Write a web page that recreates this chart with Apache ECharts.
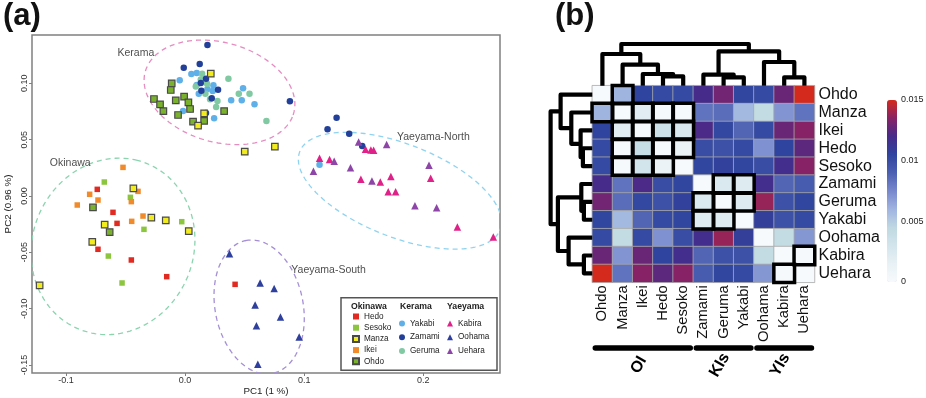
<!DOCTYPE html>
<html>
<head>
<meta charset="utf-8">
<script src="https://cdn.jsdelivr.net/npm/echarts@6/dist/echarts.min.js"></script>
<style>
  html, body { margin: 0; padding: 0; background: #fff; }
  #chart { width: 926px; height: 398px; }
</style>
</head>
<body>
<div id="chart"></div>
<script>
// ---------- panel (a): PCA, each point is [PC1, PC2] ----------
const hedo = [[-0.0737, 0.0059], [-0.0731, -0.0473], [-0.0605, -0.0145], [-0.0571, -0.0243], [-0.0451, -0.0568], [-0.0154, -0.0716], [0.0420, -0.0784]];
const sesoko = [[-0.0678, 0.0124], [-0.0459, -0.0012], [-0.0345, -0.0296], [-0.0028, -0.0228], [-0.0644, -0.0533], [-0.0529, -0.0772]];
const manza = [[0.0216, 0.1086], [0.0160, 0.0734], [0.0109, 0.0624], [0.0501, 0.0393], [0.0754, 0.0438], [-0.0434, 0.0068], [-0.0283, -0.0192], [-0.0162, -0.0216], [0.0031, -0.0311], [-0.0675, -0.0254], [-0.0779, -0.0408], [-0.1221, -0.0793]];
const ikei = [[-0.0521, 0.0254], [-0.0801, 0.0015], [-0.0731, -0.0036], [-0.0905, -0.0080], [-0.0395, 0.0041], [-0.0451, -0.0050], [-0.0353, -0.0178], [-0.0448, -0.0225]];
const ohdo = [[-0.0112, 0.1000], [-0.0120, 0.0941], [-0.0261, 0.0861], [-0.0210, 0.0814], [-0.0182, 0.0754], [-0.0078, 0.0849], [-0.0008, 0.0882], [0.0028, 0.0831], [0.0042, 0.0772], [-0.0059, 0.0719], [0.0067, 0.0660], [0.0160, 0.0666], [0.0328, 0.0754], [-0.0773, -0.0101], [-0.0633, -0.0320]];
const yakabi = [[-0.0045, 0.1027], [0.0053, 0.1083], [0.0098, 0.1092], [0.0098, 0.0985], [0.0115, 0.0908], [0.0188, 0.0950], [0.0238, 0.0982], [0.0232, 0.0932], [0.0387, 0.0849], [0.0487, 0.0956], [0.0476, 0.0849], [0.0583, 0.0814], [-0.0017, 0.0754], [0.0042, 0.0769], [0.0244, 0.0689], [0.1129, 0.0278]];
const zamami = [[0.0188, 0.1340], [-0.0011, 0.1139], [0.0123, 0.1172], [0.0176, 0.1041], [0.0132, 0.1003], [0.0137, 0.0935], [0.0277, 0.0944], [0.0224, 0.0867], [0.0176, 0.0737], [0.0880, 0.0840], [0.1272, 0.0695], [0.1196, 0.0592], [0.1378, 0.0553], [0.1487, 0.0444]];
const geruma = [[0.0143, 0.1086], [0.0132, 0.1033], [0.0090, 0.0973], [0.0185, 0.0997], [0.0171, 0.0908], [0.0210, 0.0858], [0.0272, 0.0843], [0.0261, 0.0790], [0.0364, 0.1041], [0.0451, 0.0908], [0.0541, 0.0908], [0.0683, 0.0666]];
const kabira = [[0.1129, 0.0334], [0.1213, 0.0325], [0.1515, 0.0414], [0.1560, 0.0408], [0.1583, 0.0405], [0.1476, 0.0148], [0.1639, 0.0124], [0.1728, 0.0172], [0.1706, 0.0038], [0.1768, 0.0038], [0.2062, 0.0157], [0.2286, -0.0275], [0.2588, -0.0364]];
const oohama = [[0.0373, -0.0512], [0.0630, -0.0772], [0.0748, -0.0820], [0.0588, -0.0967], [0.0801, -0.1074], [0.0599, -0.1151], [0.0958, -0.1251], [0.0611, -0.1494]];
const uehara = [[0.1457, 0.0479], [0.1692, 0.0456], [0.1252, 0.0308], [0.1078, 0.0219], [0.1389, 0.0251], [0.1569, 0.0133], [0.2048, 0.0272], [0.1930, -0.0086], [0.2112, -0.0104]];

const pc1Ticks = [-0.1, 0, 0.1, 0.2];
const pc2Ticks = [-0.15, -0.1, -0.05, 0, 0.05, 0.1];

// dashed group ellipses (centre, semi axes, angle in degrees)
const ellipseNames = ['Kerama', 'Okinawa', 'Yaeyama-North', 'Yaeyama-South'];
const ellipseCx = [0.0289, -0.0605, 0.1804, 0.0622];
const ellipseCy = [0.0920, -0.0447, 0.0047, -0.0985];
const ellipseA = [0.065, 0.079, 0.091, 0.060];
const ellipseB = [0.044, 0.068, 0.041, 0.037];
const ellipseAngle = [-18, 75, -23, 100];
const ellipseLabelX = [-0.0413, -0.0964, 0.2085, 0.1205];
const ellipseLabelY = [0.1265, 0.0288, 0.0519, -0.0660];

// ---------- panel (b): pairwise matrix ----------
const popNames = ['Ohdo', 'Manza', 'Ikei', 'Hedo', 'Sesoko', 'Zamami', 'Geruma', 'Yakabi', 'Oohama', 'Kabira', 'Uehara'];
const fst = [
  [0, 0.0060, 0.0105, 0.0102, 0.0102, 0.0120, 0.0130, 0.0104, 0.0102, 0.0128, 0.0150],
  [0.0060, 0, 0.0020, 0.0001, 0.0002, 0.0083, 0.0085, 0.0058, 0.0042, 0.0071, 0.0083],
  [0.0105, 0.0020, 0, 0.0036, 0.0026, 0.0121, 0.0103, 0.0088, 0.0102, 0.0128, 0.0135],
  [0.0102, 0.0001, 0.0038, 0, 0.0012, 0.0100, 0.0098, 0.0102, 0.0072, 0.0105, 0.0125],
  [0.0102, 0.0002, 0.0030, 0.0012, 0, 0.0104, 0.0107, 0.0104, 0.0100, 0.0118, 0.0135],
  [0.0120, 0.0083, 0.0121, 0.0100, 0.0104, 0, 0.0025, 0.0022, 0.0118, 0.0088, 0.0092],
  [0.0130, 0.0085, 0.0103, 0.0098, 0.0107, 0.0025, 0, 0.0022, 0.0138, 0.0098, 0.0104],
  [0.0104, 0.0058, 0.0088, 0.0102, 0.0104, 0.0022, 0.0022, 0, 0.0108, 0.0098, 0.0102],
  [0.0102, 0.0042, 0.0102, 0.0072, 0.0100, 0.0118, 0.0138, 0.0108, 0, 0.0042, 0.0070],
  [0.0128, 0.0071, 0.0128, 0.0105, 0.0118, 0.0088, 0.0098, 0.0098, 0.0042, 0, 0.0001],
  [0.0150, 0.0083, 0.0135, 0.0125, 0.0135, 0.0092, 0.0104, 0.0102, 0.0070, 0.0001, 0]
];
// outlined cells: [row, column]
const boxedCells = [[0, 1], [1, 0], [1, 1], [1, 2], [1, 3], [1, 4], [2, 1], [2, 2], [2, 3], [2, 4],
  [3, 1], [3, 2], [3, 3], [3, 4], [4, 1], [4, 2], [4, 3], [5, 6], [5, 7], [6, 5], [6, 6], [6, 7],
  [7, 5], [7, 6], [9, 10], [10, 9]];
// clustering: merge i joins linkLeft[i] and linkRight[i] (ids >= 11 are earlier merges)
const linkLeft = [3, 2, 1, 0, 6, 5, 9, 8, 16, 14];
const linkRight = [4, 11, 12, 13, 7, 15, 10, 17, 18, 19];
const linkHeight = [9.4, 11.7, 21, 31.7, 8.4, 11, 8.4, 23.7, 34.4, 41.7];
const groupNames = ['OI', 'KIs', 'YIs'];
const groupFirst = [0, 5, 8];
const groupLast = [4, 7, 10];
const scaleTicks = [0, 0.005, 0.01, 0.015];

const FONT = 'Liberation Sans, Arial, sans-serif';
const chart = echarts.init(document.getElementById('chart'));

const heatData = [];
fst.forEach((row, r) => row.forEach((v, c) => heatData.push([c, r, v])));
const boxData = boxedCells.map(b => [b[1], b[0], 1]);

const nLeaf = popNames.length;
const nodePos = popNames.map((n, i) => i);
const nodeHeight = popNames.map(() => 0);
linkLeft.forEach((l, i) => {
  nodePos.push((nodePos[l] + nodePos[linkRight[i]]) / 2);
  nodeHeight.push(linkHeight[i]);
});

function dendroItem(onTop) {
  return function (params, api) {
    const i = api.value(2);
    const l = linkLeft[i], r = linkRight[i], h = linkHeight[i];
    const seq = [[nodePos[l], nodeHeight[l]], [nodePos[l], h], [nodePos[r], h], [nodePos[r], nodeHeight[r]]];
    const pts = seq.map(p => api.coord(onTop ? p : [p[1], p[0]]));
    return {
      type: 'polyline',
      shape: { points: pts },
      style: { stroke: '#000', lineWidth: 4.2, fill: null, lineJoin: 'round' }
    };
  };
}

const ellipseColors = ['#e58cc0', '#8ad4ae', '#8fd3f0', '#a48fd6'];

function pointSeries(name, data, symbol, size, color, border) {
  return {
    name: name,
    type: 'scatter',
    xAxisIndex: 0,
    yAxisIndex: 0,
    data: data,
    symbol: symbol,
    symbolSize: size,
    itemStyle: border
      ? { color: color, borderColor: '#4a4a4a', borderWidth: 1.2, opacity: 1 }
      : { color: color, opacity: 1 },
    emphasis: { disabled: true },
    z: 3
  };
}

function legendBlock(names, left, top, gap) {
  return {
    data: names,
    orient: 'vertical',
    left: left,
    top: top,
    padding: 0,
    itemWidth: 6,
    itemHeight: 6,
    itemGap: gap,
    selectedMode: false,
    textStyle: { fontSize: 8.2, lineHeight: 9, color: '#222', fontFamily: FONT }
  };
}

const option = {
  animation: false,
  backgroundColor: '#fff',
  textStyle: { fontFamily: FONT },
  grid: [
    { left: 32, top: 35, width: 468, height: 338, show: true, borderColor: '#808080', borderWidth: 1.5, containLabel: false, outerBoundsMode: 'none' },
    { left: 592.3, top: 85.7, width: 222.2, height: 196.6, containLabel: false, outerBoundsMode: 'none' },
    { left: 592.3, top: 40, width: 222.2, height: 45.7, containLabel: false, outerBoundsMode: 'none' },
    { left: 546, top: 85.7, width: 46.3, height: 196.6, containLabel: false, outerBoundsMode: 'none' },
    { left: 592.3, top: 340, width: 222.2, height: 40, containLabel: false, outerBoundsMode: 'none' },
    { left: 887, top: 100, width: 10, height: 182, containLabel: false, outerBoundsMode: 'none' }
  ],
  xAxis: [
    {
      gridIndex: 0, type: 'value', min: -0.1285, max: 0.2644,
      name: 'PC1 (1 %)', nameLocation: 'middle', nameGap: 13, nameMoveOverlap: false,
      nameTextStyle: { fontSize: 9.8, color: '#222', verticalAlign: 'top' },
      axisLine: { show: false, onZero: false },
      axisTick: { show: true, length: 3, lineStyle: { color: '#808080' }, customValues: pc1Ticks },
      axisLabel: { fontSize: 9, color: '#333', margin: 3, customValues: pc1Ticks, formatter: v => v.toFixed(1) },
      splitLine: { show: false }
    },
    {
      gridIndex: 1, type: 'category', data: popNames, position: 'bottom',
      axisLine: { show: false }, axisTick: { show: false }, splitLine: { show: false },
      axisLabel: { rotate: 90, interval: 0, fontSize: 14.8, color: '#111', margin: 3 }
    },
    { gridIndex: 2, type: 'value', min: -0.5, max: 10.5, show: false },
    { gridIndex: 3, type: 'value', min: 0, max: 46.3, inverse: true, show: false },
    { gridIndex: 4, type: 'value', min: -0.5, max: 10.5, show: false },
    { gridIndex: 5, type: 'value', min: 0, max: 1, show: false }
  ],
  yAxis: [
    {
      gridIndex: 0, type: 'value', min: -0.1571, max: 0.1429,
      name: 'PC2 (0.96 %)', nameLocation: 'middle', nameGap: 19, nameMoveOverlap: false,
      nameTextStyle: { fontSize: 9.8, color: '#222' },
      axisLine: { show: false, onZero: false },
      axisTick: { show: true, length: 3, lineStyle: { color: '#808080' }, customValues: pc2Ticks },
      axisLabel: { fontSize: 9, color: '#333', margin: 3, rotate: 90, customValues: pc2Ticks, formatter: v => v.toFixed(2) },
      splitLine: { show: false }
    },
    {
      gridIndex: 1, type: 'category', data: popNames, inverse: true, position: 'right',
      axisLine: { show: false }, axisTick: { show: false }, splitLine: { show: false },
      axisLabel: { interval: 0, fontSize: 16, color: '#111', margin: 4 }
    },
    { gridIndex: 2, type: 'value', min: 0, max: 45.7, show: false },
    { gridIndex: 3, type: 'value', min: -0.5, max: 10.5, inverse: true, show: false },
    { gridIndex: 4, type: 'value', min: 0, max: 40, inverse: true, show: false },
    {
      gridIndex: 5, type: 'value', min: 0, max: 0.015, position: 'right',
      axisLine: { show: false }, axisTick: { show: false }, splitLine: { show: false },
      axisLabel: { fontSize: 9, color: '#222', margin: 4, customValues: scaleTicks, formatter: v => String(v) }
    }
  ],
  visualMap: {
    type: 'continuous',
    seriesIndex: 0,
    min: 0,
    max: 0.015,
    calculable: false,
    orient: 'vertical',
    left: 887,
    top: 100,
    itemWidth: 10,
    itemHeight: 182,
    padding: 0,
    inRange: {
      color: ['#f7fafc', '#e8f1f5', '#d3e5ec', '#bfd8e1', '#a0b4e0', '#7788cc', '#4c60b2', '#2f449e', '#472b8a', '#872266', '#d42a1e']
    }
  },
  legend: [
    legendBlock(['Hedo', 'Sesoko', 'Manza', 'Ikei', 'Ohdo'], 352, 312, 2.2),
    legendBlock(['Yakabi', 'Zamami', 'Geruma'], 399, 319, 4.7),
    legendBlock(['Kabira', 'Oohama', 'Uehara'], 447, 319, 4.7)
  ],
  graphic: [
    { type: 'text', left: 3, top: 1, style: { text: '(a)', font: 'bold 31px ' + FONT, fill: '#111' } },
    { type: 'text', left: 555, top: 1, style: { text: '(b)', font: 'bold 31px ' + FONT, fill: '#111' } },
    { type: 'rect', shape: { x: 341, y: 297.7, width: 156, height: 72.5 }, style: { fill: 'none', stroke: '#555', lineWidth: 1.5 } },
    { type: 'text', left: 351, top: 302, style: { text: 'Okinawa', font: 'bold 8.7px ' + FONT, fill: '#222' } },
    { type: 'text', left: 400, top: 302, style: { text: 'Kerama', font: 'bold 8.7px ' + FONT, fill: '#222' } },
    { type: 'text', left: 447, top: 302, style: { text: 'Yaeyama', font: 'bold 8.7px ' + FONT, fill: '#222' } }
  ],
  series: [
    {
      type: 'heatmap',
      xAxisIndex: 1,
      yAxisIndex: 1,
      data: heatData,
      itemStyle: { borderColor: '#a8a8a8', borderWidth: 0.8 },
      emphasis: { disabled: true }
    },
    {
      type: 'heatmap',
      xAxisIndex: 1,
      yAxisIndex: 1,
      data: boxData,
      itemStyle: { color: 'rgba(0,0,0,0)', borderColor: '#000', borderWidth: 3.5 },
      emphasis: { disabled: true },
      z: 4
    },
    {
      type: 'custom',
      xAxisIndex: 2,
      yAxisIndex: 2,
      clip: false,
      data: linkHeight.map((h, i) => [nodePos[nLeaf + i], h, i]),
      renderItem: dendroItem(true)
    },
    {
      type: 'custom',
      xAxisIndex: 3,
      yAxisIndex: 3,
      clip: false,
      data: linkHeight.map((h, i) => [h, nodePos[nLeaf + i], i]),
      renderItem: dendroItem(false)
    },
    {
      type: 'custom',
      xAxisIndex: 4,
      yAxisIndex: 4,
      clip: false,
      data: groupNames.map((n, i) => [groupFirst[i], groupLast[i], i]),
      renderItem: function (params, api) {
        const i = api.value(2);
        const a = api.coord([api.value(0) - 0.5 + 0.15, 8]);
        const b = api.coord([api.value(1) + 0.5 - 0.15, 8]);
        const c = api.coord([(api.value(0) + api.value(1)) / 2, 25]);
        return {
          type: 'group',
          children: [
            { type: 'line', shape: { x1: a[0], y1: a[1], x2: b[0], y2: b[1] }, style: { stroke: '#000', lineWidth: 5.5, lineCap: 'round' } },
            { type: 'text', x: c[0] - 4, y: c[1], rotation: Math.PI / 3,
              style: { text: groupNames[i], font: 'bold 16px ' + FONT, fill: '#000', align: 'center', verticalAlign: 'middle' } }
          ]
        };
      }
    },
    {
      type: 'custom',
      xAxisIndex: 0,
      yAxisIndex: 0,
      clip: true,
      data: ellipseNames.map((n, i) => [ellipseCx[i], ellipseCy[i], i]),
      renderItem: function (params, api) {
        const i = api.value(2);
        const th = ellipseAngle[i] * Math.PI / 180;
        const pts = [];
        for (let k = 0; k <= 160; k++) {
          const t = k / 160 * 2 * Math.PI;
          const ex = ellipseA[i] * Math.cos(t);
          const ey = ellipseB[i] * Math.sin(t);
          pts.push(api.coord([
            ellipseCx[i] + ex * Math.cos(th) - ey * Math.sin(th),
            ellipseCy[i] + ex * Math.sin(th) + ey * Math.cos(th)
          ]));
        }
        return {
          type: 'polyline',
          shape: { points: pts },
          style: { stroke: ellipseColors[i], lineWidth: 1.3, lineDash: [5, 4], fill: null }
        };
      },
      z: 2
    },
    {
      type: 'scatter',
      xAxisIndex: 0,
      yAxisIndex: 0,
      symbolSize: 1,
      itemStyle: { color: 'rgba(0,0,0,0)' },
      data: ellipseNames.map((n, i) => ({ name: n, value: [ellipseLabelX[i], ellipseLabelY[i]] })),
      label: { show: true, position: 'inside', formatter: '{b}', fontSize: 10.5, color: '#1a1a1a' },
      emphasis: { disabled: true },
      silent: true,
      z: 5
    },
    pointSeries('Yakabi', yakabi, 'circle', 6.5, '#5fb0e8', false),
    pointSeries('Geruma', geruma, 'circle', 6.5, '#80c9a2', false),
    pointSeries('Zamami', zamami, 'circle', 6.5, '#22409a', false),
    pointSeries('Hedo', hedo, 'rect', 5.5, '#e12a22', false),
    pointSeries('Sesoko', sesoko, 'rect', 5.5, '#8cc63f', false),
    pointSeries('Ikei', ikei, 'rect', 5.5, '#f08a2a', false),
    pointSeries('Ohdo', ohdo, 'rect', 6.5, '#7ab22e', true),
    pointSeries('Manza', manza, 'rect', 6.5, '#f2ec1e', true),
    pointSeries('Kabira', kabira, 'triangle', 7.5, '#e0218a', false),
    pointSeries('Oohama', oohama, 'triangle', 7.5, '#2e3f9e', false),
    pointSeries('Uehara', uehara, 'triangle', 7.5, '#8e45a8', false)
  ]
};

chart.setOption(option);
</script>
</body>
</html>
